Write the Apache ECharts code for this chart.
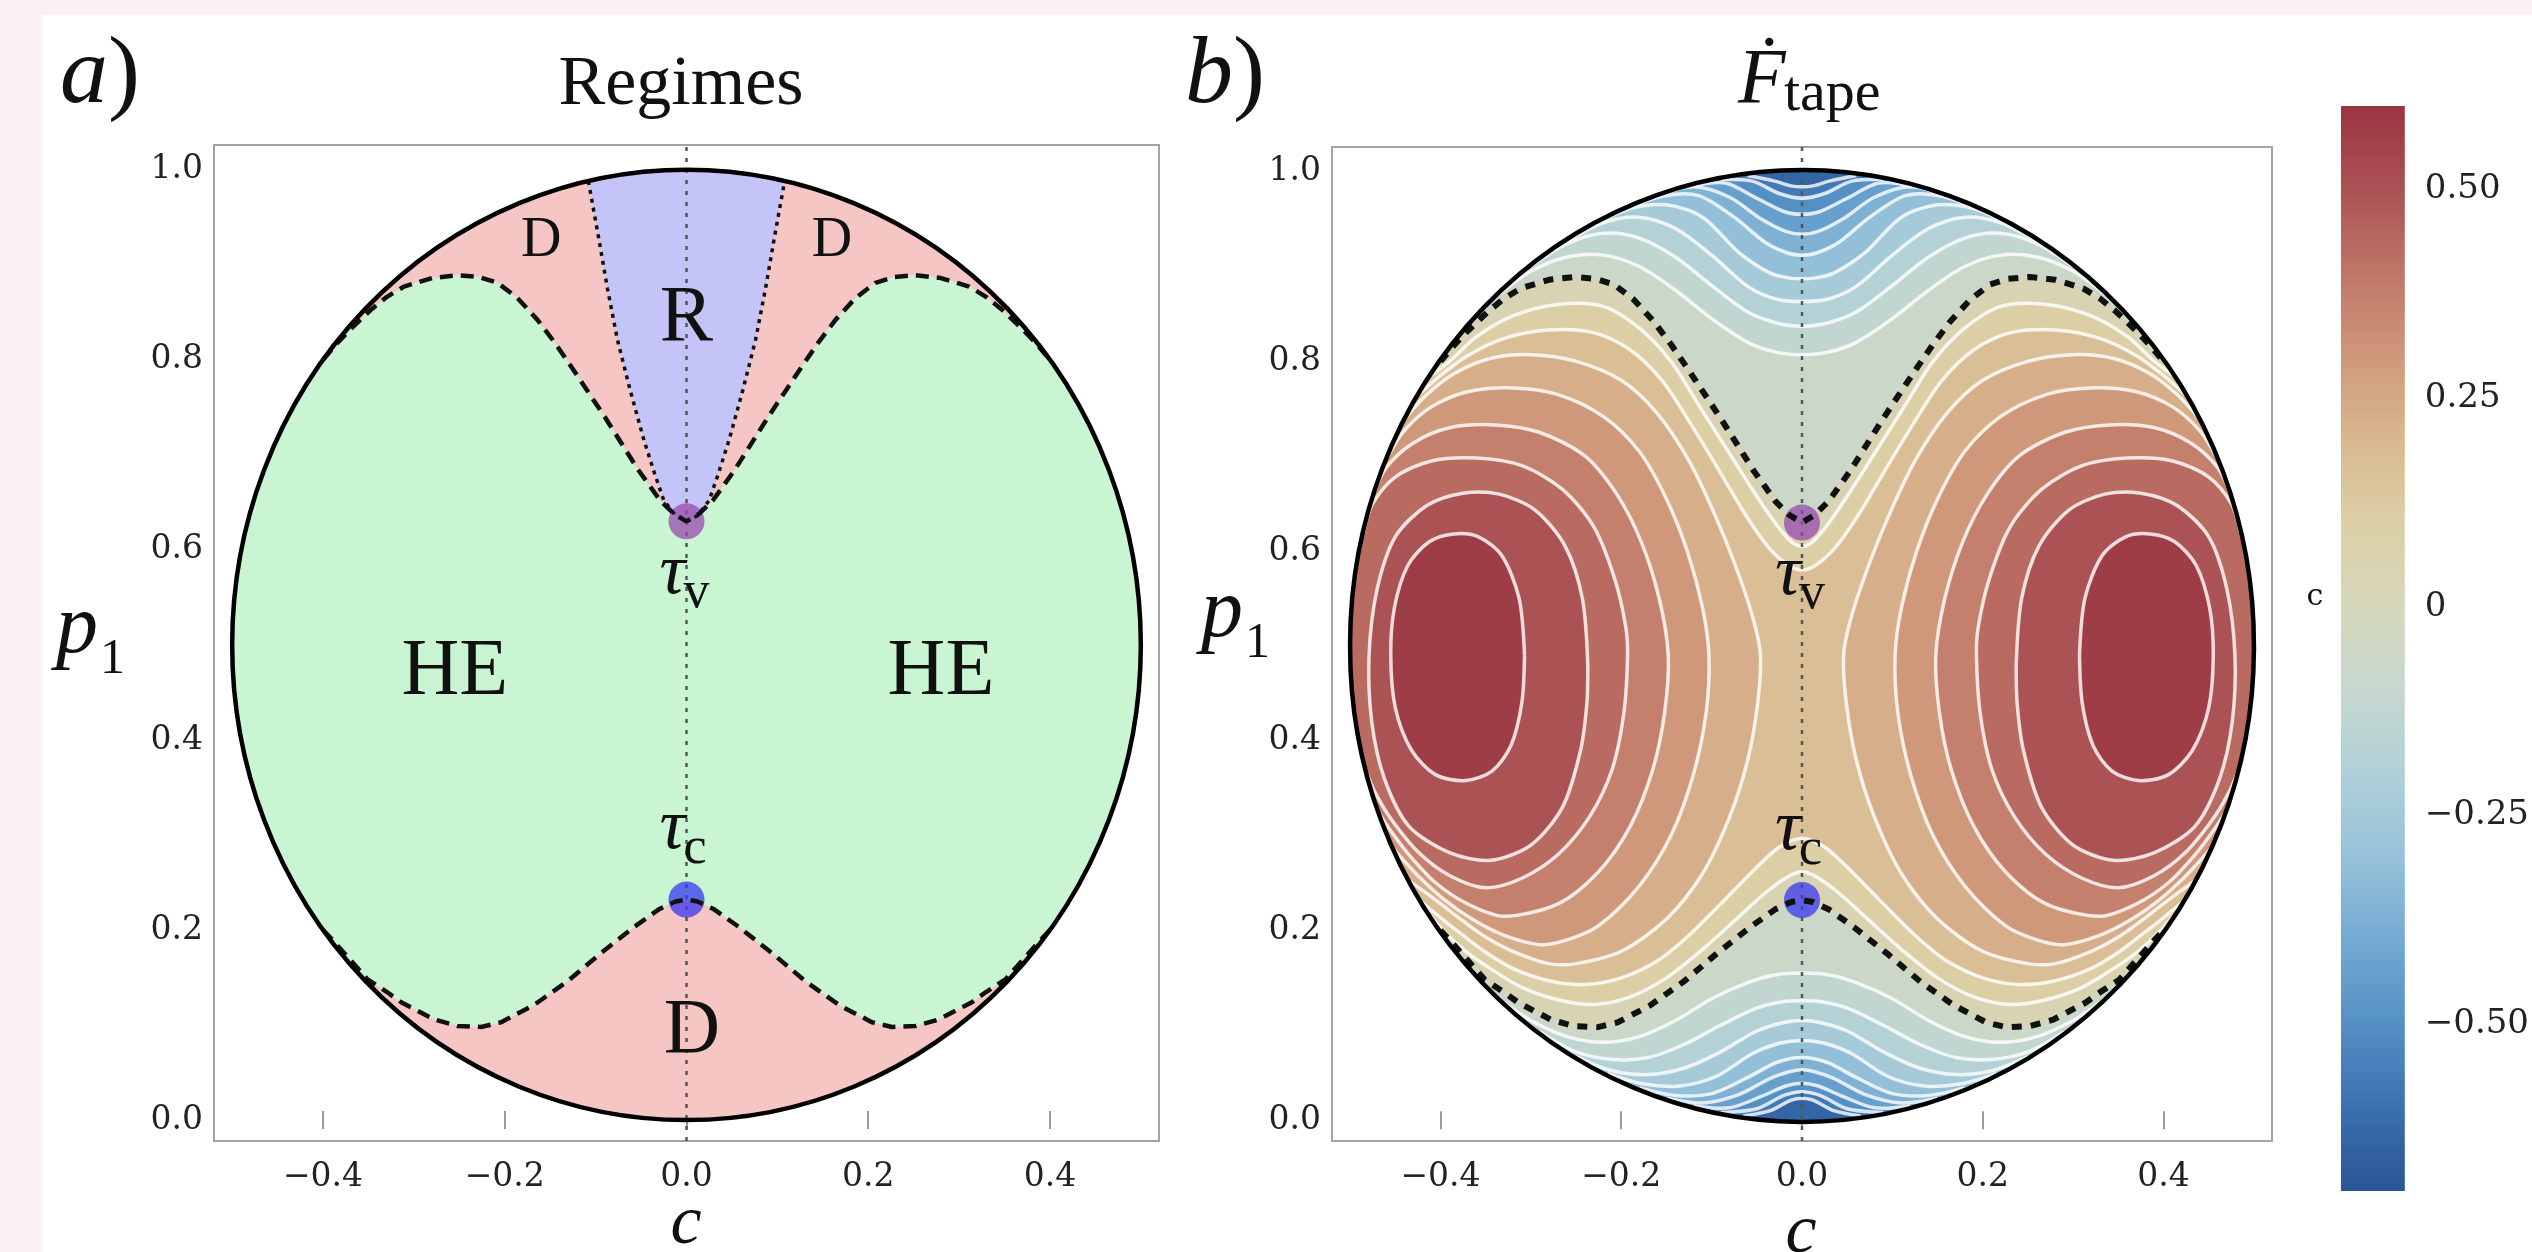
<!DOCTYPE html>
<html>
<head>
<meta charset="utf-8">
<script src="https://cdn.jsdelivr.net/npm/echarts@6/dist/echarts.min.js"></script>
<style>
  html, body { margin: 0; padding: 0; background: #fcf0f3; }
  #paper { position: absolute; left: 42px; top: 15px; right: 0; bottom: 0; background: #fff; }
  #main { position: absolute; left: 0; top: 0; width: 2532px; height: 1252px; }
</style>
</head>
<body>
<div id="paper"></div>
<div id="main"></div>
<script>
// ticks
const xTicks = [-0.4, -0.2, 0, 0.2, 0.4];
const yTicks = [0, 0.2, 0.4, 0.6, 0.8, 1.0];
const barTicks = [-0.5, -0.25, 0, 0.25, 0.5];
// colour bar of F_tape, -0.7 .. 0.6 (step 0.1)
const barColors = ['#2b5494', '#3a70b0', '#5590c5', '#73aad2', '#96c2d9', '#b0d0d8', '#c6d8cf',
  '#d6d8bb', '#dccfa6', '#d9b88f', '#cf987a', '#bf7667', '#ab5254', '#9a3441'];

// domain: centre c, centre p, radius
const domain = [0, 0.5, 0.5];
const tauV = [0, 0.63];
const tauC = [0, 0.232];

// zero contour (dashed), left half: circle -> tau point
const zeroTop = [[-0.40, 0.80], [-0.385, 0.817], [-0.37, 0.832], [-0.348, 0.852], [-0.33, 0.866], [-0.311, 0.877],
  [-0.28, 0.886], [-0.252, 0.889], [-0.228, 0.887], [-0.208, 0.881], [-0.186, 0.865], [-0.164, 0.842],
  [-0.145, 0.818], [-0.127, 0.793], [-0.09, 0.74], [-0.053, 0.684], [-0.029, 0.652], [-0.014, 0.638], [0, 0.63]];
const zeroBottom = [[-0.40, 0.20], [-0.39, 0.19], [-0.377, 0.176], [-0.351, 0.148], [-0.33, 0.135], [-0.314, 0.124],
  [-0.278, 0.106], [-0.252, 0.099], [-0.226, 0.098], [-0.204, 0.103], [-0.168, 0.121], [-0.131, 0.146],
  [-0.095, 0.175], [-0.058, 0.203], [-0.03, 0.222], [-0.012, 0.23], [0, 0.232]];
// R / D boundary (dotted), left half
const rEdge = [[-0.108, 0.988], [-0.097, 0.93], [-0.087, 0.875], [-0.076, 0.821], [-0.062, 0.768],
  [-0.047, 0.716], [-0.035, 0.68], [-0.025, 0.652], [-0.012, 0.636], [0, 0.63]];

// F_tape contours, left half
const capTop = [
  [[-0.335, 0.871], [-0.30, 0.895], [-0.26, 0.91], [-0.22, 0.912], [-0.18, 0.90], [-0.14, 0.875], [-0.10, 0.845], [-0.06, 0.82], [-0.03, 0.81], [0, 0.807]],
  [[-0.30, 0.90], [-0.26, 0.924], [-0.22, 0.935], [-0.18, 0.93], [-0.14, 0.91], [-0.10, 0.88], [-0.06, 0.852], [-0.03, 0.841], [0, 0.837]],
  [[-0.265, 0.924], [-0.22, 0.946], [-0.18, 0.952], [-0.14, 0.94], [-0.10, 0.912], [-0.06, 0.879], [-0.03, 0.866], [0, 0.863]],
  [[-0.23, 0.944], [-0.19, 0.961], [-0.15, 0.965], [-0.11, 0.952], [-0.07, 0.915], [-0.035, 0.893], [-0.015, 0.888], [0, 0.887]],
  [[-0.195, 0.96], [-0.155, 0.974], [-0.115, 0.975], [-0.075, 0.952], [-0.04, 0.925], [-0.015, 0.914], [0, 0.912]],
  [[-0.16, 0.974], [-0.12, 0.984], [-0.08, 0.973], [-0.045, 0.95], [-0.018, 0.937], [0, 0.934]],
  [[-0.125, 0.984], [-0.085, 0.988], [-0.05, 0.972], [-0.02, 0.958], [0, 0.955]],
  [[-0.09, 0.992], [-0.055, 0.99], [-0.025, 0.977], [0, 0.972]],
  [[-0.06, 0.996], [-0.03, 0.99], [-0.012, 0.985], [0, 0.984]]
];
const capBottom = [
  [[-0.33, 0.124], [-0.30, 0.105], [-0.26, 0.088], [-0.22, 0.082], [-0.18, 0.088], [-0.14, 0.105], [-0.10, 0.128], [-0.06, 0.145], [-0.03, 0.153], [0, 0.155]],
  [[-0.29, 0.093], [-0.25, 0.072], [-0.21, 0.064], [-0.17, 0.066], [-0.13, 0.08], [-0.09, 0.10], [-0.05, 0.118], [-0.02, 0.125], [0, 0.126]],
  [[-0.25, 0.067], [-0.21, 0.052], [-0.17, 0.048], [-0.13, 0.055], [-0.09, 0.072], [-0.05, 0.094], [-0.02, 0.103], [0, 0.105]],
  [[-0.215, 0.049], [-0.175, 0.038], [-0.135, 0.036], [-0.095, 0.046], [-0.055, 0.07], [-0.025, 0.081], [0, 0.084]],
  [[-0.18, 0.034], [-0.14, 0.026], [-0.10, 0.028], [-0.06, 0.045], [-0.03, 0.06], [-0.012, 0.065], [0, 0.066]],
  [[-0.15, 0.023], [-0.11, 0.018], [-0.07, 0.027], [-0.035, 0.044], [-0.014, 0.051], [0, 0.053]],
  [[-0.12, 0.015], [-0.08, 0.013], [-0.045, 0.025], [-0.018, 0.036], [0, 0.039]],
  [[-0.09, 0.008], [-0.05, 0.012], [-0.02, 0.026], [0, 0.03]],
  [[-0.065, 0.0043], [-0.035, 0.01], [-0.012, 0.021], [0, 0.023]]
];
const capValues = [-0.12, -0.18, -0.24, -0.31, -0.37, -0.44, -0.50, -0.57, -0.64];
const crossTop = [
  [[-0.411, 0.785], [-0.39, 0.80], [-0.36, 0.826], [-0.32, 0.848], [-0.27, 0.86], [-0.22, 0.858], [-0.18, 0.835], [-0.145, 0.80], [-0.115, 0.755], [-0.085, 0.71], [-0.055, 0.665], [-0.03, 0.63], [-0.012, 0.61], [0, 0.605]],
  [[-0.424, 0.765], [-0.40, 0.785], [-0.37, 0.806], [-0.33, 0.824], [-0.28, 0.833], [-0.23, 0.83], [-0.19, 0.812], [-0.155, 0.78], [-0.125, 0.737], [-0.095, 0.69], [-0.065, 0.642], [-0.038, 0.605], [-0.015, 0.585], [0, 0.58]]
];
const crossBottom = [
  [[-0.412, 0.217], [-0.395, 0.198], [-0.372, 0.178], [-0.345, 0.16], [-0.31, 0.14], [-0.27, 0.127], [-0.23, 0.122], [-0.19, 0.13], [-0.15, 0.15], [-0.11, 0.18], [-0.075, 0.21], [-0.04, 0.24], [-0.015, 0.257], [0, 0.262]],
  [[-0.42, 0.229], [-0.398, 0.212], [-0.375, 0.195], [-0.35, 0.177], [-0.32, 0.16], [-0.28, 0.147], [-0.24, 0.143], [-0.2, 0.15], [-0.16, 0.168], [-0.125, 0.195], [-0.09, 0.228], [-0.055, 0.262], [-0.025, 0.288], [0, 0.297]]
];
const crossValues = [0.10, 0.17];
const lobes = [
  [[-0.439, 0.74], [-0.415, 0.765], [-0.385, 0.787], [-0.345, 0.803], [-0.30, 0.807], [-0.25, 0.80], [-0.20, 0.78], [-0.16, 0.745], [-0.125, 0.695], [-0.095, 0.635], [-0.07, 0.575], [-0.053, 0.525], [-0.046, 0.49], [-0.049, 0.44], [-0.06, 0.38], [-0.08, 0.32], [-0.11, 0.26], [-0.15, 0.212], [-0.20, 0.178], [-0.25, 0.165], [-0.28, 0.165], [-0.32, 0.178], [-0.35, 0.193], [-0.375, 0.21], [-0.405, 0.232], [-0.434, 0.252]],
  [[-0.458, 0.70], [-0.44, 0.727], [-0.41, 0.752], [-0.37, 0.768], [-0.32, 0.772], [-0.27, 0.765], [-0.22, 0.742], [-0.18, 0.705], [-0.15, 0.655], [-0.127, 0.60], [-0.11, 0.54], [-0.103, 0.49], [-0.106, 0.43], [-0.12, 0.365], [-0.145, 0.30], [-0.18, 0.247], [-0.225, 0.205], [-0.26, 0.19], [-0.29, 0.185], [-0.33, 0.195], [-0.365, 0.212], [-0.395, 0.232], [-0.425, 0.258], [-0.452, 0.286]],
  [[-0.474, 0.66], [-0.46, 0.688], [-0.43, 0.714], [-0.39, 0.73], [-0.34, 0.733], [-0.29, 0.725], [-0.24, 0.70], [-0.205, 0.66], [-0.178, 0.61], [-0.158, 0.55], [-0.148, 0.49], [-0.152, 0.43], [-0.165, 0.37], [-0.19, 0.31], [-0.225, 0.262], [-0.27, 0.228], [-0.33, 0.215], [-0.37, 0.228], [-0.405, 0.25], [-0.435, 0.28], [-0.455, 0.305], [-0.468, 0.324]],
  [[-0.485, 0.62], [-0.475, 0.65], [-0.45, 0.678], [-0.41, 0.695], [-0.36, 0.698], [-0.31, 0.69], [-0.265, 0.665], [-0.23, 0.625], [-0.207, 0.57], [-0.195, 0.52], [-0.193, 0.49], [-0.197, 0.43], [-0.21, 0.37], [-0.235, 0.32], [-0.27, 0.28], [-0.31, 0.255], [-0.35, 0.245], [-0.39, 0.258], [-0.425, 0.283], [-0.455, 0.318], [-0.472, 0.345], [-0.482, 0.367]]
];
const lobeValues = [0.23, 0.30, 0.37, 0.43];
const rings = [
  [[-0.237, 0.48], [-0.243, 0.55], [-0.262, 0.605], [-0.295, 0.643], [-0.335, 0.66], [-0.375, 0.661], [-0.415, 0.648], [-0.45, 0.615], [-0.47, 0.56], [-0.479, 0.49], [-0.476, 0.42], [-0.462, 0.36], [-0.435, 0.31], [-0.39, 0.282], [-0.345, 0.274], [-0.30, 0.29], [-0.265, 0.33], [-0.245, 0.39], [-0.238, 0.44]],
  [[-0.307, 0.49], [-0.313, 0.55], [-0.332, 0.595], [-0.358, 0.615], [-0.385, 0.618], [-0.412, 0.61], [-0.436, 0.585], [-0.451, 0.54], [-0.455, 0.49], [-0.45, 0.435], [-0.432, 0.39], [-0.405, 0.364], [-0.372, 0.358], [-0.343, 0.368], [-0.322, 0.395], [-0.31, 0.44]]
];
const ringValues = [0.50, 0.57];
const baseValue = -0.07;
const zeroValue = 0.04;

// region names of panel a and their anchors
const regionNames = ['D', 'D', 'R', 'HE', 'HE', 'D'];
const regionAt = [[-0.16, 0.925], [0.16, 0.925], [0, 0.842], [-0.255, 0.47], [0.28, 0.47], [0.006, 0.093]];
const regionSize = [56, 56, 80, 80, 80, 78];
const tauNames = ['v', 'c'];
const tauAt = [[0, 0.576], [0, 0.307]];

const serif = "'Liberation Serif', 'DejaVu Serif', serif";
const numFont = "'DejaVu Serif', serif";

function fmtTick(v) { return (v < 0 ? '\u2212' : '') + Math.abs(v).toFixed(1); }
function fmtBar(v) { return v === 0 ? '0' : (v < 0 ? '\u2212' : '') + Math.abs(v).toFixed(2); }

function mirror(pts) { return pts.map(q => [-q[0], q[1]]); }
function across(half) { return half.concat(mirror(half).reverse().slice(1)); }
function closed(pts) { return pts.concat([pts[0]]); }

function ell(api) {
  const o = api.coord([domain[0], domain[1]]);
  const s = api.size([domain[2], domain[2]]);
  return { cx: o[0], cy: o[1], rx: s[0], ry: s[1] };
}
function px(api, pts) { return pts.map(q => api.coord(q)); }
function f(q) { return q[0].toFixed(2) + ' ' + q[1].toFixed(2); }
function poly(P) { return 'M' + P.map(f).join(' L'); }
function arcTo(e, q, sweep) { return ' A' + e.rx.toFixed(2) + ' ' + e.ry.toFixed(2) + ' 0 0 ' + sweep + ' ' + f(q); }

function diskPath(api) {
  const e = ell(api);
  const a = [e.cx - e.rx, e.cy], b = [e.cx + e.rx, e.cy];
  return 'M' + f(a) + ' A' + e.rx + ' ' + e.ry + ' 0 1 0 ' + f(b) + ' A' + e.rx + ' ' + e.ry + ' 0 1 0 ' + f(a) + ' Z';
}
// region bounded by a line from circle to circle and the arc that closes it
function capPath(api, pts, sweep) {
  const e = ell(api), P = px(api, pts);
  return poly(P) + arcTo(e, P[0], sweep) + ' Z';
}
// region between an upper and a lower line that both cross c = 0
function bandPath(api, top, bottom) {
  const e = ell(api), T = px(api, across(top)), B = px(api, across(bottom));
  return 'M' + f(B[0]) + arcTo(e, T[0], 1) + ' L' + T.map(f).join(' L') +
    arcTo(e, B[B.length - 1], 1) + ' L' + B.slice().reverse().map(f).join(' L') + ' Z';
}

// filled bands of panel b, painted in this order
const bands = [];
bands.push({ v: baseValue, build: api => diskPath(api) });
bands.push({ v: zeroValue, build: api => bandPath(api, zeroTop, zeroBottom) });
crossTop.forEach((t, i) => bands.push({ v: crossValues[i], build: api => bandPath(api, t, crossBottom[i]) }));
lobes.forEach((l, i) => {
  bands.push({ v: lobeValues[i], build: api => capPath(api, l, 1) });
  bands.push({ v: lobeValues[i], build: api => capPath(api, mirror(l), 0) });
});
rings.forEach((r, i) => {
  bands.push({ v: ringValues[i], build: api => poly(px(api, r)) + ' Z' });
  bands.push({ v: ringValues[i], build: api => poly(px(api, mirror(r))) + ' Z' });
});
capTop.forEach((c, i) => bands.push({ v: capValues[i], build: api => capPath(api, across(c), 0) }));
capBottom.forEach((c, i) => bands.push({ v: capValues[i], build: api => capPath(api, across(c), 1) }));

// white contour lines of panel b
const contourLines = [].concat(
  capTop.map(across), capBottom.map(across), crossTop.map(across), crossBottom.map(across),
  lobes, lobes.map(mirror), rings.map(closed), rings.map(r => closed(mirror(r)))
);

function xAx(g, pos, labels) {
  return {
    type: 'value', gridIndex: g, position: pos, min: -0.52, max: 0.52,
    axisLine: { show: false }, splitLine: { show: false },
    axisTick: { show: true, inside: true, length: 9, customValues: xTicks, lineStyle: { color: '#9a9a9a', width: 2 } },
    axisLabel: { show: labels, customValues: xTicks, formatter: fmtTick, margin: 20,
      fontFamily: numFont, fontSize: 33, color: '#222' }
  };
}
function yAx(g, pos, labels) {
  return {
    type: 'value', gridIndex: g, position: pos, min: -0.022, max: 1.026,
    axisLine: { show: false }, splitLine: { show: false },
    axisTick: { show: true, inside: true, length: 9, customValues: yTicks, lineStyle: { color: '#9a9a9a', width: 2 } },
    axisLabel: { show: labels, customValues: yTicks, formatter: fmtTick, margin: 11,
      fontFamily: numFont, fontSize: 33, color: '#222' }
  };
}

function lineS(g, pts, color, width, dash, z) {
  return { type: 'line', xAxisIndex: g * 2, yAxisIndex: g * 2, data: pts, showSymbol: false, symbol: 'none',
    silent: true, z: z, lineStyle: { color: color, width: width, type: dash, cap: 'butt' } };
}
function outline(g) {
  return { type: 'custom', xAxisIndex: g * 2, yAxisIndex: g * 2, z: 6, silent: true, data: [[0, 0.5]],
    renderItem: (p, api) => ({ type: 'path', shape: { pathData: diskPath(api) },
      style: { fill: 'transparent', stroke: '#000', lineWidth: 4.5 } }) };
}
function markers(g) {
  return { type: 'scatter', xAxisIndex: g * 2, yAxisIndex: g * 2, z: 4, silent: true, symbolSize: 36,
    data: [{ value: tauV, itemStyle: { color: 'rgba(150,72,172,0.92)' } },
           { value: tauC, itemStyle: { color: 'rgba(58,58,240,0.95)' } }] };
}
function tauText(g) {
  return { type: 'custom', xAxisIndex: g * 2, yAxisIndex: g * 2, z: 7, silent: true,
    data: tauAt.map((a, i) => [a[0], a[1], i]),
    renderItem: (p, api) => {
      const q = api.coord([api.value(0), api.value(1)]);
      return { type: 'group', children: [
        { type: 'text', x: q[0] - 14, y: q[1] + 1, style: { text: '\u03c4', font: 'italic 72px ' + serif, fill: '#111',
          textAlign: 'center', textVerticalAlign: 'middle', align: 'center', verticalAlign: 'middle' } },
        { type: 'text', x: q[0] - 3, y: q[1] + 21, style: { text: tauNames[api.value(2)], font: '52px ' + serif, fill: '#111',
          textAlign: 'left', textVerticalAlign: 'middle', align: 'left', verticalAlign: 'middle' } }
      ] };
    } };
}

const series = [
  // panel a
  { type: 'custom', xAxisIndex: 0, yAxisIndex: 0, z: 1, silent: true, data: [[0, 0.5]],
    renderItem: (p, api) => ({ type: 'path', shape: { pathData: diskPath(api) }, style: { fill: '#f6c6c4' } }) },
  { type: 'custom', xAxisIndex: 0, yAxisIndex: 0, z: 2, silent: true, data: [[0, 0.5]],
    renderItem: (p, api) => ({ type: 'path', shape: { pathData: bandPath(api, zeroTop, zeroBottom) }, style: { fill: '#c9f5d3' } }) },
  { type: 'custom', xAxisIndex: 0, yAxisIndex: 0, z: 2, silent: true, data: [[0, 0.9]],
    renderItem: (p, api) => ({ type: 'path', shape: { pathData: capPath(api, across(rEdge), 0) }, style: { fill: '#c5c4f8' } }) },
  lineS(0, [[0, -0.022], [0, 1.026]], '#555', 2.5, [4, 7], 3),
  lineS(0, across(rEdge), '#111', 3.5, [4, 5], 5),
  lineS(0, across(zeroTop), '#111', 4.5, [13, 8], 5),
  lineS(0, across(zeroBottom), '#111', 4.5, [13, 8], 5),
  outline(0),
  markers(0),
  { type: 'custom', xAxisIndex: 0, yAxisIndex: 0, z: 7, silent: true,
    data: regionAt.map((a, i) => [a[0], a[1], i]),
    renderItem: (p, api) => {
      const i = api.value(2), q = api.coord([api.value(0), api.value(1)]);
      return { type: 'text', x: q[0], y: q[1], style: { text: regionNames[i], font: regionSize[i] + 'px ' + serif,
        fill: '#111', textAlign: 'center', textVerticalAlign: 'middle', align: 'center', verticalAlign: 'middle' } };
    } },
  tauText(0),
  // panel b
  { type: 'custom', xAxisIndex: 2, yAxisIndex: 2, z: 1, silent: true,
    data: bands.map((b, i) => [b.v, i]),
    renderItem: (p, api) => ({ type: 'path', shape: { pathData: bands[api.value(1)].build(api) },
      style: { fill: api.visual('color') } }) },
  { type: 'custom', xAxisIndex: 2, yAxisIndex: 2, z: 2, silent: true,
    data: contourLines.map((c, i) => [0, 0.5, i]),
    renderItem: (p, api) => ({ type: 'polyline', shape: { points: px(api, contourLines[api.value(2)]), smooth: 0.3 },
      style: { fill: null, stroke: 'rgba(255,255,255,0.8)', lineWidth: 3.5 } }) },
  lineS(1, [[0, -0.022], [0, 1.026]], '#555', 2.5, [4, 7], 3),
  lineS(1, across(zeroTop), '#111', 6, [10, 9], 5),
  lineS(1, across(zeroBottom), '#111', 6, [10, 9], 5),
  outline(1),
  markers(1),
  tauText(1),
  // colour bar
  { type: 'custom', xAxisIndex: 4, yAxisIndex: 4, z: 1, silent: true, data: [[0.5, 0]],
    renderItem: (p, api) => {
      const a = api.coord([0, 0.6]), b = api.coord([1, -0.7]);
      const stops = barColors.map((c, i) => ({ offset: 1 - i / (barColors.length - 1), color: c })).reverse();
      return { type: 'rect', shape: { x: a[0], y: a[1], width: b[0] - a[0], height: b[1] - a[1] },
        style: { fill: new echarts.graphic.LinearGradient(0, 0, 0, 1, stops) } };
    } }
];
const bandSeries = series.findIndex(s => s.data && s.data.length === bands.length && s.xAxisIndex === 2);

function txt(x, y, text, font, align) {
  return { type: 'text', x: x, y: y, silent: true, z: 10,
    style: { text: text, font: font, fill: '#111', textAlign: align, textVerticalAlign: 'middle', align: align, verticalAlign: 'middle' } };
}

const option = {
  animation: false,
  backgroundColor: 'transparent',
  grid: [
    { left: 214, top: 145, width: 945, height: 996, show: true, borderColor: '#a3a3a3', borderWidth: 2 },
    { left: 1332, top: 147, width: 940, height: 994, show: true, borderColor: '#a3a3a3', borderWidth: 2 },
    { left: 2341, top: 106, width: 76, height: 1085, show: false }
  ],
  xAxis: [xAx(0, 'bottom', true), xAx(0, 'top', false), xAx(1, 'bottom', true), xAx(1, 'top', false),
    { type: 'value', gridIndex: 2, min: 0, max: 1, show: false }],
  yAxis: [yAx(0, 'left', true), yAx(0, 'right', false), yAx(1, 'left', true), yAx(1, 'right', false),
    { type: 'value', gridIndex: 2, position: 'right', min: -0.7, max: 0.6,
      axisLine: { show: false }, splitLine: { show: false }, axisTick: { show: false },
      axisLabel: { customValues: barTicks, formatter: fmtBar, margin: 20, fontFamily: numFont, fontSize: 34, color: '#222' } }],
  visualMap: { type: 'continuous', show: false, min: -0.7, max: 0.6, dimension: 0, seriesIndex: bandSeries,
    inRange: { color: barColors } },
  graphic: { elements: [
    txt(60, 77, 'a', 'italic 96px ' + serif, 'left'),
    txt(108, 77, ')', '96px ' + serif, 'left'),
    txt(1185, 77, 'b', 'italic 96px ' + serif, 'left'),
    txt(1233, 77, ')', '96px ' + serif, 'left'),
    txt(681, 86, 'Regimes', '70px ' + serif, 'center'),
    txt(1738, 81, '\u1e1e', 'italic 78px ' + serif, 'left'),
    txt(1784, 95, 'tape', '58px ' + serif, 'left'),
    txt(56, 630, 'p', 'italic 84px ' + serif, 'left'),
    txt(100, 660, '1', '50px ' + serif, 'left'),
    txt(1201, 614, 'p', 'italic 84px ' + serif, 'left'),
    txt(1245, 644, '1', '50px ' + serif, 'left'),
    txt(686, 1225, 'c', 'italic 70px ' + serif, 'center'),
    txt(1801, 1234, 'c', 'italic 70px ' + serif, 'center'),
    txt(2315, 597, 'c', '30px ' + numFont, 'center')
  ] },
  series: series
};

const chart = echarts.init(document.getElementById('main'));
chart.setOption(option);
</script>
</body>
</html>
